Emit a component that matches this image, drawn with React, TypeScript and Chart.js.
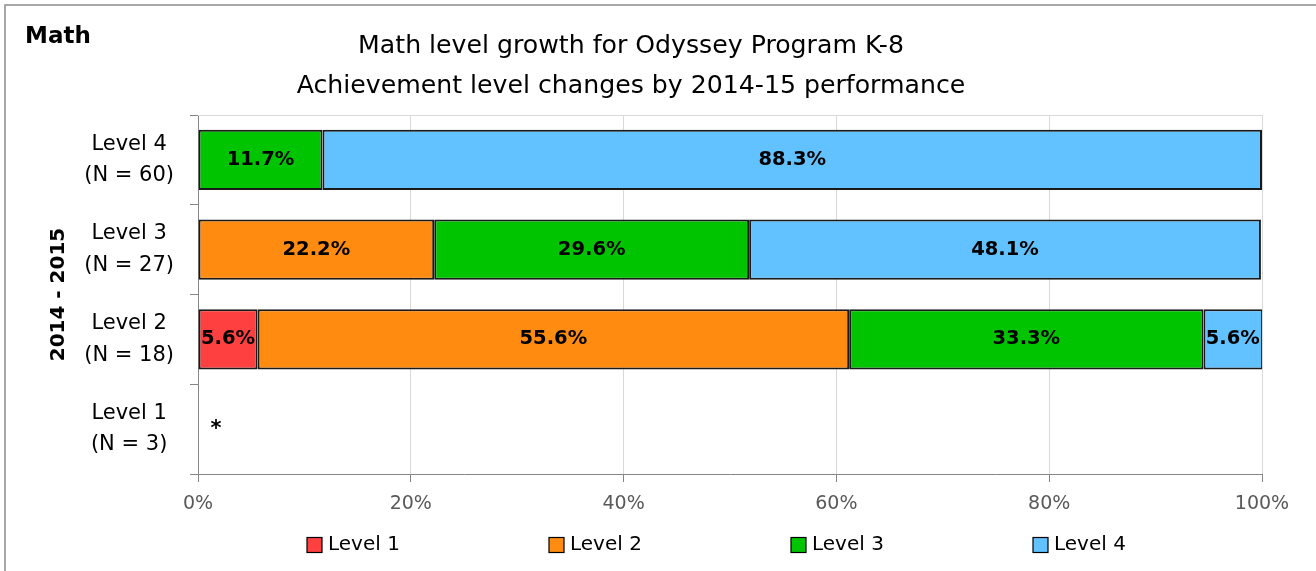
import React, { useEffect, useRef } from "react";
import { Chart, registerables } from "chart.js";

Chart.register(...registerables);

// ---------- data ----------
const categories: string[][] = [
  ["Level 4", "(N = 60)"],
  ["Level 3", "(N = 27)"],
  ["Level 2", "(N = 18)"],
  ["Level 1", "(N = 3)"],
];
const seriesNames = ["Level 1", "Level 2", "Level 3", "Level 4"];
const level1Values = [null, null, 5.6, null];
const level2Values = [null, 22.2, 55.6, null];
const level3Values = [11.7, 29.6, 33.3, null];
const level4Values = [88.3, 48.1, 5.6, null];
const categoryNotes = ["", "", "", "*"];
const xTickValues = [0, 20, 40, 60, 80, 100];
const seriesColors = ["#FF4040", "#FF8C10", "#00C400", "#62C1FF"];
const chartTitle = [
  "Math level growth for Odyssey Program K-8",
  "Achievement level changes by 2014-15 performance",
];
const cornerLabel = "Math";
const yAxisTitle = "2014 - 2015";

const FONT = "'DejaVu Sans', 'Open Sans', sans-serif";

const framePlugin = {
  id: "frame",
  afterDraw(chart: any) {
    const ctx = chart.ctx;
    ctx.save();
    ctx.strokeStyle = "#8C8C8C";
    ctx.lineWidth = 1.5;
    ctx.strokeRect(5, 5, chart.width + 20, chart.height + 20);
    ctx.fillStyle = "#000";
    ctx.font = `bold 23px ${FONT}`;
    ctx.textAlign = "left";
    ctx.textBaseline = "alphabetic";
    ctx.fillText(cornerLabel, 25, 43);
    ctx.restore();
  },
};

const topLinePlugin = {
  id: "topLine",
  beforeDatasetsDraw(chart: any) {
    const { ctx, chartArea } = chart;
    ctx.save();
    ctx.strokeStyle = "#D9D9D9";
    ctx.lineWidth = 1;
    ctx.beginPath();
    ctx.moveTo(chartArea.left, Math.round(chartArea.top) + 0.5);
    ctx.lineTo(chartArea.right, Math.round(chartArea.top) + 0.5);
    ctx.stroke();
    ctx.restore();
  },
};

const dataLabelPlugin = {
  id: "dataLabels",
  afterDatasetsDraw(chart: any) {
    const ctx = chart.ctx;
    ctx.save();
    ctx.font = `bold 19.5px ${FONT}`;
    ctx.fillStyle = "#000";
    ctx.textAlign = "center";
    ctx.textBaseline = "middle";
    chart.data.datasets.forEach((ds: any, di: number) => {
      const meta = chart.getDatasetMeta(di);
      meta.data.forEach((el: any, i: number) => {
        const v = ds.data[i];
        if (v === null || v === undefined) return;
        const p = el.getProps(["x", "y", "base"], true);
        const right = Math.min(p.x, chart.chartArea.right);
        ctx.fillText(`${v.toFixed(1)}%`, (p.base + right) / 2, p.y);
      });
    });
    const yScale = chart.scales.y;
    ctx.font = `bold 21px ${FONT}`;
    categoryNotes.forEach((note, i) => {
      if (!note) return;
      ctx.fillText(note, chart.chartArea.left + 18, yScale.getPixelForValue(i));
    });
    ctx.restore();
  },
};

const legendPlugin = {
  id: "customLegend",
  afterDraw(chart: any) {
    const ctx = chart.ctx;
    ctx.save();
    ctx.font = `20px ${FONT}`;
    ctx.textBaseline = "middle";
    ctx.textAlign = "left";
    const startX = 307;
    const step = 242;
    const cy = 545;
    chart.data.datasets.forEach((ds: any, i: number) => {
      const x = startX + i * step;
      ctx.fillStyle = ds.backgroundColor;
      ctx.fillRect(x, cy - 7.5, 15, 15);
      ctx.strokeStyle = "#000";
      ctx.lineWidth = 1.2;
      ctx.strokeRect(x, cy - 7.5, 15, 15);
      ctx.fillStyle = "#000";
      ctx.fillText(ds.label, x + 21, cy);
    });
    ctx.restore();
  },
};

export default function App() {
  const canvasRef = useRef<HTMLCanvasElement | null>(null);

  useEffect(() => {
    if (!canvasRef.current) return;
    const valueSets = [level1Values, level2Values, level3Values, level4Values];
    const chart = new Chart(canvasRef.current, {
      type: "bar",
      data: {
        labels: categories,
        datasets: seriesNames.map((name, i) => ({
          label: name,
          data: valueSets[i],
          backgroundColor: seriesColors[i],
          borderColor: "#1A1A1A",
          borderWidth: 2,
          borderSkipped: false,
          barPercentage: 0.67,
          categoryPercentage: 1,
        })),
      },
      options: {
        indexAxis: "y",
        responsive: false,
        animation: false,
        layout: { padding: { left: 0, right: 54, top: 0, bottom: 47 } },
        plugins: {
          legend: { display: false },
          tooltip: { enabled: false },
          title: {
            display: true,
            text: chartTitle,
            color: "#000",
            font: { family: FONT, size: 25.2, weight: "normal", lineHeight: 40 / 25.2 },
            padding: { top: 26, bottom: 9 },
          },
        },
        scales: {
          x: {
            stacked: true,
            min: 0,
            max: 100,
            afterBuildTicks(scale: any) {
              scale.ticks = xTickValues.map((v) => ({ value: v }));
            },
            afterFit(scale: any) {
              scale.height = 50;
            },
            ticks: {
              callback: (v: any) => `${v}%`,
              color: "#595959",
              font: { family: FONT, size: 19 },
              padding: 11,
              maxRotation: 0,
            },
            grid: {
              color: "#D9D9D9",
              tickColor: "#868686",
              tickLength: 8,
              lineWidth: 1,
            },
            border: { color: "#868686", width: 1 },
          },
          y: {
            stacked: true,
            afterFit(scale: any) {
              scale.width = 198;
            },
            ticks: {
              color: "#000",
              font: { family: FONT, size: 21, lineHeight: 1.5 },
              crossAlign: "center",
              padding: 16,
            },
            grid: {
              drawOnChartArea: false,
              tickColor: "#868686",
              tickLength: 8,
              offset: true,
            },
            border: { color: "#868686", width: 1 },
            title: {
              display: true,
              text: yAxisTitle,
              color: "#000",
              font: { family: FONT, size: 20, weight: "bold" },
              padding: { top: 47, bottom: 0 },
            },
          },
        },
      },
      plugins: [framePlugin, topLinePlugin, dataLabelPlugin, legendPlugin],
    } as any);
    return () => chart.destroy();
  }, []);

  return (
    <div style={{ position: "absolute", left: 0, top: 0, width: 1316, height: 571, background: "#fff" }}>
      <canvas ref={canvasRef} width={1316} height={571} style={{ width: 1316, height: 571 }} />
    </div>
  );
}
